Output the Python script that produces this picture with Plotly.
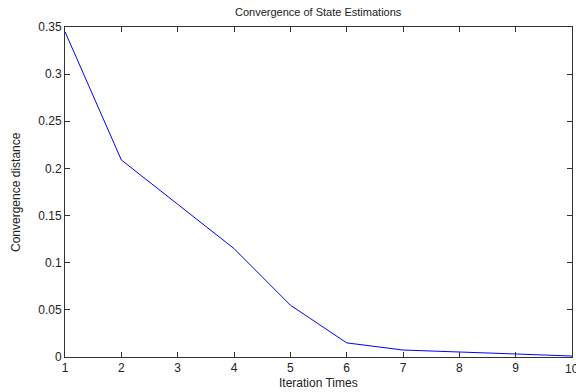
import plotly.graph_objects as go

iterations = [1, 2, 3, 4, 5, 6, 7, 8, 9, 10]
distance = [0.345, 0.209, 0.162, 0.115, 0.055, 0.015, 0.0074, 0.005, 0.0032, 0.001]
y_ticks = [0, 0.05, 0.1, 0.15, 0.2, 0.25, 0.3, 0.35]
y_tick_labels = ["0", "0.05", "0.1", "0.15", "0.2", "0.25", "0.3", "0.35"]
x_tick_labels = [str(i) for i in iterations]

FONT = "Liberation Sans, Arial"
fig = go.Figure()
fig.add_trace(go.Scatter(x=iterations, y=distance, mode="lines",
                         line=dict(color="#0000ff", width=1), showlegend=False, cliponaxis=False))

axis_common = dict(showline=True, linecolor="#333333", linewidth=1, mirror="ticks",
                   ticks="inside", ticklen=5, tickcolor="#333333", showgrid=False,
                   zeroline=False, automargin=False,
                   tickfont=dict(family=FONT, size=12, color="#222222"))

fig.update_layout(
    width=576, height=392,
    margin=dict(l=65, r=4, t=27, b=35),
    paper_bgcolor="white", plot_bgcolor="white",
    xaxis=dict(range=[1, 10], tickvals=iterations[:-1], ticktext=x_tick_labels[:-1], **axis_common),
    yaxis=dict(range=[0, 0.35], tickvals=y_ticks, ticktext=y_tick_labels, **axis_common),
    annotations=[
        dict(text="Convergence of State Estimations", xref="paper", yref="paper", x=0.5, y=1,
             yshift=7, xanchor="center", yanchor="bottom", showarrow=False,
             font=dict(family=FONT, size=11, color="#222222")),
        dict(text="Iteration Times", xref="paper", yref="paper", x=0.5, y=0, yshift=-17,
             xanchor="center", yanchor="top", showarrow=False,
             font=dict(family=FONT, size=12, color="#222222")),
        dict(text="Convergence distance", xref="paper", yref="paper", x=0, y=0.5, xshift=-58,
             xanchor="left", yanchor="middle", textangle=-90, showarrow=False,
             font=dict(family=FONT, size=12, color="#222222")),
        dict(text=x_tick_labels[-1], xref="x", yref="paper", x=iterations[-1], y=0, yshift=-3,
             xanchor="center", yanchor="top", showarrow=False,
             font=dict(family=FONT, size=12, color="#222222")),
    ],
)

fig.write_html("out.html", config={"displayModeBar": False},
               post_script="document.body.style.margin='0';document.body.style.overflow='hidden';")
